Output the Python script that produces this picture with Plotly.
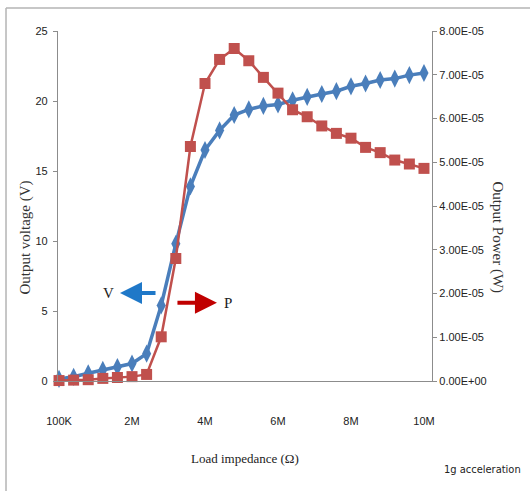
import plotly.graph_objects as go

load_labels = ["100K", "400K", "800K", "1.2M", "1.6M", "2M", "2.4M", "2.8M", "3.2M",
               "3.6M", "4M", "4.4M", "4.8M", "5.2M", "5.6M", "6M", "6.4M", "6.8M",
               "7.2M", "7.6M", "8M", "8.4M", "8.8M", "9.2M", "9.6M", "10M"]
voltage = [0.15, 0.3, 0.55, 0.8, 1.0, 1.25, 1.95, 5.4, 9.8, 13.9, 16.5, 17.9, 19.0,
           19.4, 19.65, 19.75, 20.05, 20.3, 20.5, 20.7, 21.05, 21.25, 21.5, 21.6,
           21.85, 22.0]
power = [1.0e-7, 2.0e-7, 3.0e-7, 6.0e-7, 8.0e-7, 1.0e-6, 1.5e-6, 1.01e-5, 2.80e-5,
         5.36e-5, 6.80e-5, 7.35e-5, 7.60e-5, 7.32e-5, 6.94e-5, 6.58e-5, 6.20e-5,
         6.04e-5, 5.83e-5, 5.66e-5, 5.55e-5, 5.34e-5, 5.22e-5, 5.05e-5, 4.96e-5,
         4.86e-5]
x_tick_labels = ["100K", "2M", "4M", "6M", "8M", "10M"]
v_ticks = [0, 5, 10, 15, 20, 25]
p_ticks = [0, 1e-5, 2e-5, 3e-5, 4e-5, 5e-5, 6e-5, 7e-5, 8e-5]
p_tick_labels = ["0.00E+00", "1.00E-05", "2.00E-05", "3.00E-05", "4.00E-05",
                 "5.00E-05", "6.00E-05", "7.00E-05", "8.00E-05"]

narrow = "DejaVu Sans Condensed, Liberation Sans Narrow, Arial Narrow, sans-serif"
tick_font = dict(family="Liberation Sans Narrow, Arial Narrow, Liberation Sans, sans-serif",
                 size=11, color="#222222")
serif = "Liberation Serif, Times New Roman, serif"

fig = go.Figure()
fig.add_trace(go.Scatter(
    x=load_labels, y=voltage, mode="lines+markers", name="V",
    line=dict(color="#4A7EBB", width=3.5),
    marker=dict(symbol="diamond-tall", size=13, color="#4A7EBB"),
    cliponaxis=False, yaxis="y"))
fig.add_trace(go.Scatter(
    x=load_labels, y=power, mode="lines+markers", name="P",
    line=dict(color="#C0504D", width=2.5),
    marker=dict(symbol="square", size=11, color="#C0504D"),
    cliponaxis=False, yaxis="y2"))

fig.update_layout(
    width=530, height=491,
    margin=dict(l=58, r=98, t=31, b=110),
    paper_bgcolor="white", plot_bgcolor="white",
    showlegend=False,
    xaxis=dict(type="category", categoryorder="array", categoryarray=load_labels,
               range=[-0.07, 25.55], tickmode="array", tickvals=x_tick_labels,
               ticktext=x_tick_labels, showgrid=False, zeroline=False,
               showline=True, linecolor="#8c8c8c", linewidth=1.2, ticks="",
               ticklabelstandoff=30, tickfont=tick_font),
    yaxis=dict(range=[0, 25], tickmode="array", tickvals=v_ticks,
               showgrid=False, zeroline=False, showline=True,
               linecolor="#8c8c8c", linewidth=1.2, ticks="outside", ticklen=4,
               tickcolor="#8c8c8c", ticklabelstandoff=3, tickfont=tick_font),
    yaxis2=dict(range=[0, 8e-5], overlaying="y", side="right", tickmode="array",
                tickvals=p_ticks, ticktext=p_tick_labels, showgrid=False,
                zeroline=False, showline=True, linecolor="#8c8c8c", linewidth=1.2,
                ticks="outside", ticklen=4, tickcolor="#8c8c8c",
                ticklabelstandoff=0, tickfont=tick_font),
)

def note(text, x, y, size, family=serif, angle=0, color="#222222"):
    return dict(text=text, x=x, y=y, xref="paper", yref="paper", textangle=angle,
                showarrow=False, xanchor="center", yanchor="middle",
                font=dict(family=family, size=size, color=color))

annotations = [
    note("Output voltage (V)", -0.088, 0.41, 15, angle=-90, color="#333333"),
    note("Output Power (W)", 1.174, 0.41, 15, angle=90, color="#333333"),
    note("Load impedance (Ω)", 0.5, -0.22, 13),
    note("1g acceleration", 1.136, -0.254, 11, family=narrow),
    note("V", 0.1337, 0.2514, 15),
    note("P", 0.455, 0.2229, 15),
    dict(text="", x=0.1658, y=0.2514, xref="paper", yref="paper", showarrow=True,
         ax=37, ay=0, arrowhead=2, arrowsize=1.1, arrowwidth=4, arrowcolor="#1F78C8"),
    dict(text="", x=0.425, y=0.2237, xref="paper", yref="paper", showarrow=True,
         ax=-41, ay=0, arrowhead=2, arrowsize=1.1, arrowwidth=4, arrowcolor="#C00000"),
]
fig.update_layout(annotations=annotations)

fig.add_shape(type="line", xref="paper", yref="paper", x0=-0.139, x1=1.3,
              y0=1.0657, y1=1.0657, line=dict(color="#b4b4b4", width=1.5))
fig.add_shape(type="line", xref="paper", yref="paper", x0=-0.139, x1=-0.139,
              y0=1.0657, y1=-0.35, line=dict(color="#b4b4b4", width=1.5))

fig.write_html("out.html", config={"displayModeBar": False},
               post_script="document.body.style.margin='0px';")
